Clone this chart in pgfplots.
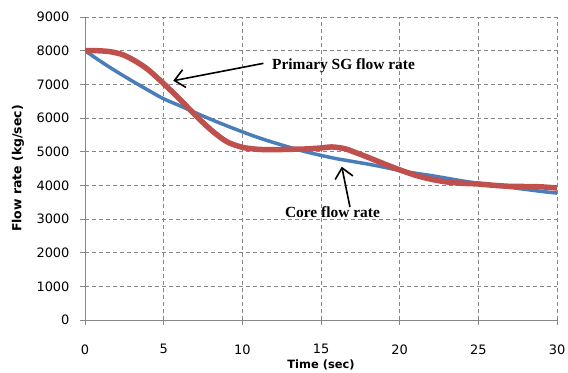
\documentclass[border=0pt]{standalone}
\usepackage{pgfplots}
\pgfplotsset{compat=1.18}
\usepackage{fontspec}
\setmainfont{DejaVu Sans}
\newfontfamily\annot{Liberation Serif}
\usetikzlibrary{arrows.meta}
\definecolor{xred}{RGB}{192,80,77}
\definecolor{xblue}{RGB}{74,126,187}
\definecolor{gridgray}{RGB}{134,134,134}
\begin{document}
\begin{tikzpicture}[x=1bp,y=1bp]
\useasboundingbox (0,0) rectangle (568,372);
\begin{axis}[
  at={(85bp,52bp)}, anchor=south west,
  scale only axis, width=472bp, height=303bp,
  xmin=0, xmax=30, ymin=0, ymax=9000,
  xtick={0,5,...,30}, ytick={0,1000,...,9000},
  axis lines=left, axis line style={-, draw=gridgray, line width=1bp},
  grid=major, major grid style={gridgray, line width=0.8bp, dash pattern=on 4bp off 3bp},
  tick align=outside, major tick length=5bp, tick style={gridgray, line width=0.8bp},
  tick label style={font=\fontsize{13}{15}\selectfont, text=black},
  xticklabel style={yshift=-16bp},
  yticklabel style={xshift=-7bp},
  /pgf/number format/assume math mode=true,
  /pgf/number format/1000 sep={},
  xlabel={\bfseries Time (sec)}, ylabel={\bfseries Flow rate (kg/sec)},
  xlabel style={font=\fontsize{11.5}{13}\selectfont, at={(axis description cs:0.5,-0.147)}, anchor=center},
  ylabel style={font=\fontsize{12.5}{14}\selectfont, at={(axis description cs:-0.142,0.5)}, anchor=center},
]
\addplot[xblue, line width=3.5bp, smooth] coordinates {
(0,8000) (1,7680) (2,7380) (3,7100) (4,6830) (5,6570) (6,6370) (7,6160) (8,5960) (9,5770) (10,5590)
(11,5420) (12,5270) (13,5130) (14,5000) (15,4890) (16,4790) (17,4710) (18,4630) (19,4540) (20,4440)
(21,4360) (22,4290) (23,4210) (24,4130) (25,4060) (26,4000) (27,3940) (28,3880) (29,3820) (30,3770)
};
\addplot[xred, line width=5.5bp, smooth] coordinates {
(0,8000) (0.8,7998) (1.6,7970) (2.4,7880) (3.2,7690) (4,7440) (5,7020) (6,6570) (7,6090) (8,5650) (9,5300) (10,5130)
(11,5070) (12,5060) (13,5070) (14,5080) (15,5110) (15.7,5140) (16.5,5090) (17,5010) (18,4830) (19,4640) (20,4460)
(21,4300) (22,4180) (23,4100) (24,4060) (25,4040) (26,4000) (27,3970) (28,3965) (29,3955) (30,3920)
};
\draw[line width=1.6bp, -{Straight Barb[length=10bp,width=18bp]}] (axis cs:11.34,7624) -- (axis cs:5.61,7107);
\draw[line width=1.6bp, -{Straight Barb[length=10bp,width=18bp]}] (axis cs:16.84,3356) -- (axis cs:16.32,4553);
\node[font=\annot\bfseries\fontsize{15.5}{17}\selectfont] at (axis cs:16.43,7544) {Primary SG flow rate};
\node[font=\annot\bfseries\fontsize{15.5}{17}\selectfont] at (axis cs:15.73,3193) {Core flow rate};
\end{axis}
\end{tikzpicture}
\end{document}
